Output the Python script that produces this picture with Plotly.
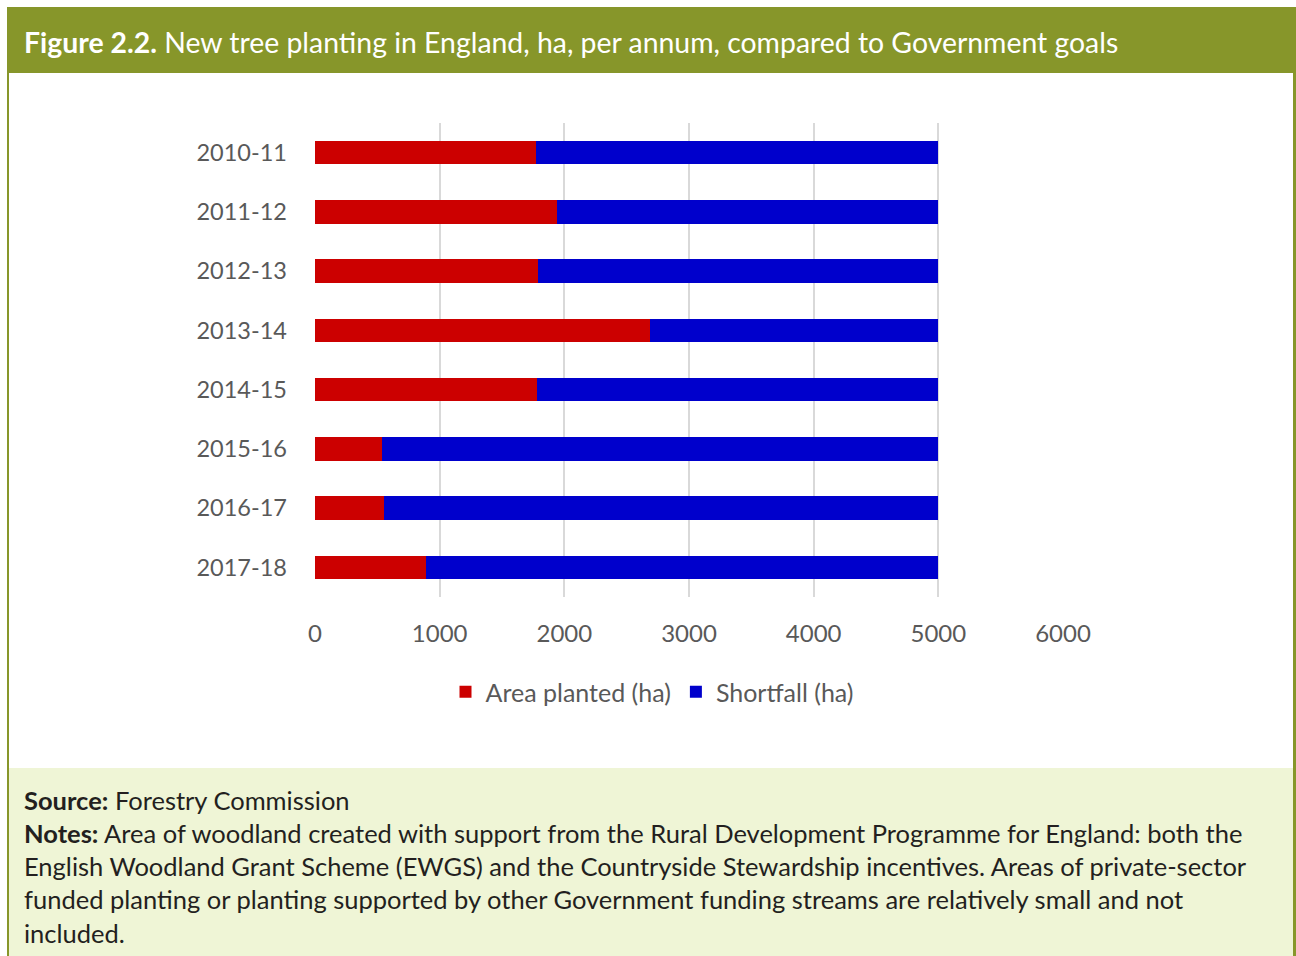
import plotly.graph_objects as go

years = ["2010-11", "2011-12", "2012-13", "2013-14", "2014-15", "2015-16", "2016-17", "2017-18"]
area_planted = [1772, 1938, 1791, 2687, 1778, 539, 555, 892]
shortfall = [3228, 3062, 3209, 2313, 3222, 4461, 4445, 4108]
x_ticks = [0, 1000, 2000, 3000, 4000, 5000, 6000]

W, H = 1296, 956
L, R, T, B = 315, 1063, 123, 597

def px(x):
    return (x - L) / (R - L)

def py(y):
    return (B - y) / (B - T)

fig = go.Figure()
fig.add_trace(go.Bar(y=years, x=area_planted, orientation="h", name="Area planted (ha)",
                     marker=dict(color="#CC0000", line=dict(width=0))))
fig.add_trace(go.Bar(y=years, x=shortfall, orientation="h", name="Shortfall (ha)",
                     marker=dict(color="#0000CC", line=dict(width=0))))

olive = "#87962A"
shapes = [
    dict(type="rect", xref="paper", yref="paper", x0=px(9), x1=px(1294), y0=py(768), y1=py(956),
         fillcolor="#EFF5D6", line=dict(width=0), layer="below"),
    dict(type="rect", xref="paper", yref="paper", x0=px(7), x1=px(1296), y0=py(7), y1=py(73),
         fillcolor=olive, line=dict(width=0), layer="below"),
    dict(type="rect", xref="paper", yref="paper", x0=px(7), x1=px(9), y0=py(73), y1=py(956),
         fillcolor=olive, line=dict(width=0), layer="below"),
    dict(type="rect", xref="paper", yref="paper", x0=px(1293), x1=px(1296), y0=py(73), y1=py(956),
         fillcolor=olive, line=dict(width=0), layer="below"),
]

annotations = [
    dict(xref="paper", yref="paper", x=px(22), y=py(42), xanchor="left", yanchor="middle",
         text="<b>Figure 2.2.</b> New tree planting in England, ha, per annum, compared to Government goals",
         showarrow=False, font=dict(family="Lato, sans-serif", size=28.4, color="white")),
    dict(xref="paper", yref="paper", x=px(22), y=py(783), xanchor="left", yanchor="top", align="left",
         text=("<b>Source:</b> Forestry Commission<br>"
               "<b>Notes:</b> Area of woodland created with support from the Rural Development Programme for England: both the<br>"
               "English Woodland Grant Scheme (EWGS) and the Countryside Stewardship incentives. Areas of private-sector<br>"
               "funded planting or planting supported by other Government funding streams are relatively small and not<br>"
               "included."),
         showarrow=False, font=dict(family="Lato, sans-serif", size=25.5, color="#231F20")),
]

fig.update_layout(
    width=W, height=H,
    margin=dict(l=L, r=W - R, t=T, b=H - B, pad=0),
    paper_bgcolor="white", plot_bgcolor="white",
    barmode="stack", bargap=0.6,
    font=dict(family="Lato, sans-serif", size=23, color="#595959"),
    xaxis=dict(range=[0, 6000], tickvals=x_ticks, ticktext=[str(v) for v in x_ticks],
               showgrid=True, gridcolor="#D9D9D9", gridwidth=2, zeroline=False,
               showline=False, ticks="", ticklabelstandoff=20,
               tickfont=dict(size=24, color="#595959")),
    yaxis=dict(type="category", autorange="reversed", showgrid=False, zeroline=False, showline=False,
               ticks="", ticklabelstandoff=27, tickfont=dict(size=23.5, color="#595959")),
    legend=dict(orientation="h", x=px(652), y=py(692), xanchor="center", yanchor="middle",
                font=dict(size=25, color="#595959"), itemwidth=30, traceorder="normal",
                bgcolor="rgba(0,0,0,0)"),
    shapes=shapes, annotations=annotations,
    showlegend=True,
)

fig.write_html("out.html", config={"displayModeBar": False},
               post_script="document.body.style.margin='0px';document.body.style.padding='0px';")
